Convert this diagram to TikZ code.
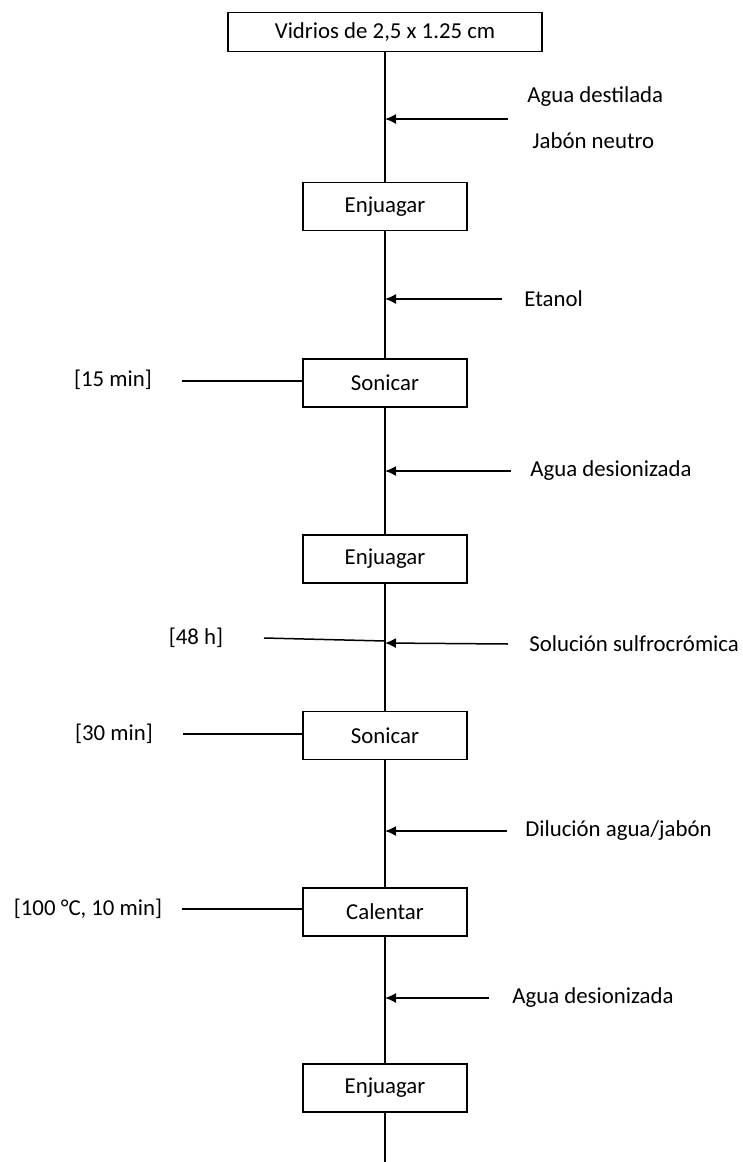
\documentclass[tikz,border=0pt]{standalone}
\usepackage{fontspec}
\setmainfont{Carlito}
\usetikzlibrary{arrows.meta}
\begin{document}
\begin{tikzpicture}[x=0.5pt,y=-0.5pt,
  every node/.style={font=\fontsize{11.4}{13.7}\selectfont},
  stepbox/.style={draw, line width=0.9pt, minimum width=82pt, minimum height=24pt, inner sep=0pt},
  topbox/.style={draw, line width=0.9pt, minimum width=157pt, minimum height=19.5pt, inner sep=0pt},
  flow/.style={line width=0.75pt},
  feed/.style={line width=0.75pt, -{Latex[length=5.5pt,width=5pt]}},
  cond/.style={line width=0.75pt},
  lbl/.style={anchor=west, inner sep=0pt},
  lbll/.style={inner sep=0pt}]
\useasboundingbox (0,0) rectangle (743,1162);

% main boxes
\node[topbox]  (top) at (385,32)    {Vidrios de 2,5 x 1.25 cm};
\node[stepbox] (e1)  at (385,206.5) {Enjuagar};
\node[stepbox] (s1)  at (385,383)   {Sonicar};
\node[stepbox] (e2)  at (385,559)   {Enjuagar};
\node[stepbox] (s2)  at (385,735.5) {Sonicar};
\node[stepbox] (c1)  at (385,912)   {Calentar};
\node[stepbox] (e3)  at (385,1088)  {Enjuagar};
\coordinate (end) at (385,1162);

% main flow line
\draw[flow] (top) -- (e1);
\draw[flow] (e1) -- (s1);
\draw[flow] (s1) -- (e2);
\draw[flow] (e2) -- (s2);
\draw[flow] (s2) -- (c1);
\draw[flow] (c1) -- (e3);
\draw[flow] (e3) -- (end);

% points on the line where inputs join
\coordinate (j1) at (385,119);
\coordinate (j2) at (385,299);
\coordinate (j3) at (385,471);
\coordinate (j4) at (385,643);
\coordinate (j5) at (385,831);
\coordinate (j6) at (385,998);
\coordinate (k4) at (385,641);

% start points of feed arrows
\coordinate (f1) at (508,119);
\coordinate (f2) at (502,299);
\coordinate (f3) at (511,471);
\coordinate (f4) at (508,644);
\coordinate (f5) at (507,831);
\coordinate (f6) at (489,998);

\draw[feed] (f1) -- (j1);
\draw[feed] (f2) -- (j2);
\draw[feed] (f3) -- (j3);
\draw[feed] (f4) -- (j4);
\draw[feed] (f5) -- (j5);
\draw[feed] (f6) -- (j6);

% right labels
\node[lbl] (l1a) at (527,97)  {Agua destilada};
\node[lbl] (l1b) at (532,141) {Jabón neutro};
\node[lbl] (l2)  at (524,299) {Etanol};
\node[lbl] (l3)  at (530,471) {Agua desionizada};
\node[lbl] (l4)  at (529,644) {Solución sulfrocrómica};
\node[lbl] (l5)  at (525,831) {Dilución agua/jabón};
\node[lbl] (l6)  at (512,998) {Agua desionizada};

% left condition labels
\node[lbll] (t1) at (113,380) {[15 min]};
\node[lbll] (t2) at (196,638) {[48 h]};
\node[lbll] (t3) at (114,734) {[30 min]};
\node[lbll] (t4) at (88,909)  {[100 °C, 10 min]};

\coordinate (g1) at (182,381);
\coordinate (g2) at (264,638);
\coordinate (g3) at (183,734);
\coordinate (g4) at (182,909);

\draw[cond] (g1) -- (s1.west |- g1);
\draw[cond] (g2) -- (k4);
\draw[cond] (g3) -- (s2.west |- g3);
\draw[cond] (g4) -- (c1.west |- g4);
\end{tikzpicture}
\end{document}
